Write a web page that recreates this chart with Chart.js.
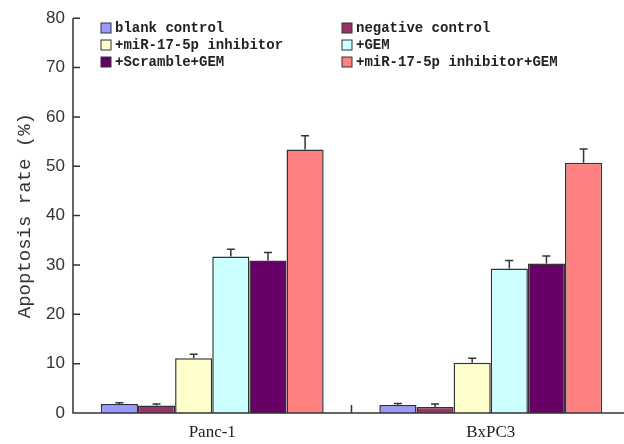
<!DOCTYPE html>
<html>
<head>
<meta charset="utf-8">
<script src="https://cdn.jsdelivr.net/npm/chart.js@4.4.0/dist/chart.umd.min.js"></script>
<style>
  html, body { margin: 0; padding: 0; background: #fff; overflow: hidden; }
  #wrap { width: 624px; height: 444px; overflow: hidden; }
</style>
</head>
<body>
<div id="wrap"><canvas id="chart" width="630" height="444"></canvas></div>
<script>
// data
var cellLines = ['Panc-1', 'BxPC3'];
var groups = ['blank control', 'negative control', '+miR-17-5p inhibitor', '+GEM', '+Scramble+GEM', '+miR-17-5p inhibitor+GEM'];
var groupColors = ['#9999ff', '#993366', '#ffffcc', '#ccffff', '#660066', '#ff8080'];
var blankControl = [1.8, 1.6];
var negativeControl = [1.5, 1.2];
var inhibitor = [11.1, 10.2];
var gem = [31.7, 29.3];
var scrambleGem = [30.9, 30.3];
var inhibitorGem = [53.4, 50.7];
var errBlank = [0.3, 0.3];
var errNegative = [0.3, 0.6];
var errInhibitor = [0.8, 0.9];
var errGem = [1.5, 1.6];
var errScramble = [1.6, 1.5];
var errInhibitorGem = [2.8, 2.8];
var yTicks = [0, 10, 20, 30, 40, 50, 60, 70, 80];

var allValues = [blankControl, negativeControl, inhibitor, gem, scrambleGem, inhibitorGem];
var allErrors = [errBlank, errNegative, errInhibitor, errGem, errScramble, errInhibitorGem];

var datasets = groups.map(function(name, i) {
  return {
    label: name,
    data: allValues[i],
    errors: allErrors[i],
    backgroundColor: groupColors[i],
    borderColor: '#333',
    borderWidth: 1.5,
    borderSkipped: 'bottom'
  };
});

// error bars (upward only, with a cap)
var errorBars = {
  id: 'errorBars',
  afterDatasetsDraw: function(chart) {
    var ctx = chart.ctx;
    var y = chart.scales.y;
    ctx.save();
    ctx.strokeStyle = '#333';
    ctx.lineWidth = 1.5;
    chart.data.datasets.forEach(function(ds, i) {
      var meta = chart.getDatasetMeta(i);
      meta.data.forEach(function(bar, j) {
        var top = y.getPixelForValue(ds.data[j]);
        var end = y.getPixelForValue(ds.data[j] + ds.errors[j]);
        ctx.beginPath();
        ctx.moveTo(bar.x, top);
        ctx.lineTo(bar.x, end);
        ctx.moveTo(bar.x - 4, end);
        ctx.lineTo(bar.x + 4, end);
        ctx.stroke();
      });
    });
    ctx.restore();
  }
};

// axes with inward ticks
var axesDraw = {
  id: 'axesDraw',
  afterDatasetsDraw: function(chart) {
    var ctx = chart.ctx;
    var area = chart.chartArea;
    var y = chart.scales.y;
    var x = chart.scales.x;
    ctx.save();
    ctx.strokeStyle = '#333';
    ctx.lineWidth = 1.5;
    ctx.beginPath();
    ctx.moveTo(area.left, area.top);
    ctx.lineTo(area.left, area.bottom);
    ctx.lineTo(area.right, area.bottom);
    yTicks.forEach(function(v) {
      var py = y.getPixelForValue(v);
      ctx.moveTo(area.left, py);
      ctx.lineTo(area.left + 7, py);
    });
    for (var k = 1; k < cellLines.length; k++) {
      var px = (x.getPixelForValue(k - 1) + x.getPixelForValue(k)) / 2;
      ctx.moveTo(px, area.bottom);
      ctx.lineTo(px, area.bottom - 8);
    }
    ctx.stroke();
    ctx.restore();
  }
};

// two-column legend inside the plot
var legendDraw = {
  id: 'legendDraw',
  afterDraw: function(chart) {
    var ctx = chart.ctx;
    ctx.save();
    ctx.font = 'bold 14px "Liberation Mono"';
    ctx.textBaseline = 'middle';
    groups.forEach(function(name, i) {
      var col = i % 2;
      var row = Math.floor(i / 2);
      var bx = col === 0 ? 101 : 342;
      var by = 28 + row * 17;
      ctx.fillStyle = groupColors[i];
      ctx.fillRect(bx, by - 5, 10, 10);
      ctx.strokeStyle = '#333';
      ctx.lineWidth = 1;
      ctx.strokeRect(bx, by - 5, 10, 10);
      ctx.fillStyle = '#222';
      ctx.fillText(name, bx + 14, by);
    });
    ctx.restore();
  }
};

var ctx = document.getElementById('chart').getContext('2d');
var chart = new Chart(ctx, {
  type: 'bar',
  data: { labels: cellLines, datasets: datasets },
  options: {
    responsive: false,
    animation: false,
    layout: { padding: { top: 18, right: 0, left: 0, bottom: 0 } },
    plugins: { legend: { display: false }, tooltip: { enabled: false } },
    datasets: { bar: { barPercentage: 1, categoryPercentage: 0.8 } },
    scales: {
      x: {
        grid: { display: false, drawTicks: false },
        border: { display: false },
        ticks: { color: '#222', font: { family: 'Liberation Serif', size: 17 }, padding: 9 },
        afterFit: function(scale) { scale.height = 31; }
      },
      y: {
        min: 0,
        max: 80,
        afterBuildTicks: function(scale) {
          scale.ticks = yTicks.map(function(v) { return { value: v }; });
        },
        grid: { display: false, drawTicks: false },
        border: { display: false },
        ticks: { color: '#333', font: { family: 'Liberation Sans', size: 17 }, padding: 8 },
        title: {
          display: true,
          text: 'Apoptosis rate (%)',
          color: '#333',
          font: { family: 'Liberation Mono', size: 19 },
          padding: { top: 14, bottom: 0 }
        },
        afterFit: function(scale) { scale.width = 73; }
      }
    }
  },
  plugins: [errorBars, axesDraw, legendDraw]
});
</script>
</body>
</html>
